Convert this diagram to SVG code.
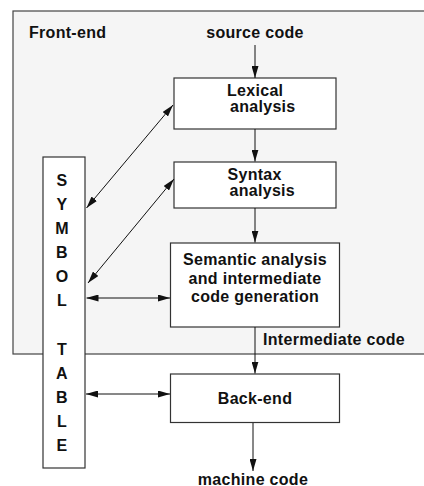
<svg xmlns="http://www.w3.org/2000/svg" width="424" height="486" viewBox="0 0 424 486">
<style>
  .box { fill: #ffffff; stroke: #333333; stroke-width: 1.2; }
  .frame { fill: #f5f5f5; stroke: #444444; stroke-width: 1.2; }
  .t { font-family: "Liberation Sans", Arial, Helvetica, sans-serif; font-weight: bold; font-size: 16px; letter-spacing: 0.3px; fill: #111111; }
  .c { text-anchor: middle; }
  .ln { fill: none; stroke: #111111; stroke-width: 1; }
  .one { marker-end: url(#ah); }
  .two { marker-start: url(#ah); marker-end: url(#ah); }
</style>
<defs>
  <marker id="ah" viewBox="0 0 12 7" refX="12" refY="3.5" markerWidth="12" markerHeight="7" markerUnits="userSpaceOnUse" orient="auto-start-reverse">
    <path d="M0,0 L12,3.5 L0,7 z" fill="#111111"/>
  </marker>
</defs>

<g id="frontend">
  <rect class="frame" x="13" y="11" width="420" height="343"/>
  <text class="t" x="29" y="38">Front-end</text>
</g>

<g id="source">
  <text class="t c" x="255" y="38">source code</text>
</g>

<g id="lexical">
  <rect class="box" x="174" y="78" width="162" height="51"/>
  <text class="t" x="227" y="96">Lexical</text>
  <text class="t" x="230" y="112">analysis</text>
</g>

<g id="syntax">
  <rect class="box" x="174" y="162" width="162" height="46"/>
  <text class="t" x="227.5" y="180">Syntax</text>
  <text class="t" x="229.5" y="196">analysis</text>
</g>

<g id="semantic">
  <rect class="box" x="170.5" y="243" width="169" height="84"/>
  <text class="t c" x="255" y="265">Semantic analysis</text>
  <text class="t c" x="255" y="284">and intermediate</text>
  <text class="t c" x="255" y="302">code generation</text>
</g>

<g id="intermediate">
  <text class="t" x="263" y="345">Intermediate code</text>
</g>

<g id="symboltable">
  <rect class="box" x="43" y="157" width="42" height="311"/>
  <text class="t c" x="62" y="186">S</text>
  <text class="t c" x="62" y="210">Y</text>
  <text class="t c" x="62" y="234">M</text>
  <text class="t c" x="62" y="258">B</text>
  <text class="t c" x="62" y="282">O</text>
  <text class="t c" x="62" y="306">L</text>
  <text class="t c" x="62" y="355">T</text>
  <text class="t c" x="62" y="379">A</text>
  <text class="t c" x="62" y="403">B</text>
  <text class="t c" x="62" y="427">L</text>
  <text class="t c" x="62" y="451">E</text>
</g>

<g id="backend">
  <rect class="box" x="170.5" y="374" width="169" height="48.5"/>
  <text class="t c" x="255" y="404">Back-end</text>
</g>

<g id="machine">
  <text class="t c" x="253" y="485">machine code</text>
</g>

<g id="connectors">
  <path class="ln one" d="M255,45 L255,78"/>
  <path class="ln one" d="M255,129 L255,161.5"/>
  <path class="ln one" d="M255,208 L255,242.5"/>
  <path class="ln one" d="M255,327 L255,373.5"/>
  <path class="ln one" d="M253,423 L253,471"/>
  <path class="ln two" d="M86.5,208 L173,105"/>
  <path class="ln two" d="M88,283 L174,179"/>
  <path class="ln two" d="M86.5,298 L170,298"/>
  <path class="ln two" d="M86,394 L170,394"/>
</g>
</svg>
